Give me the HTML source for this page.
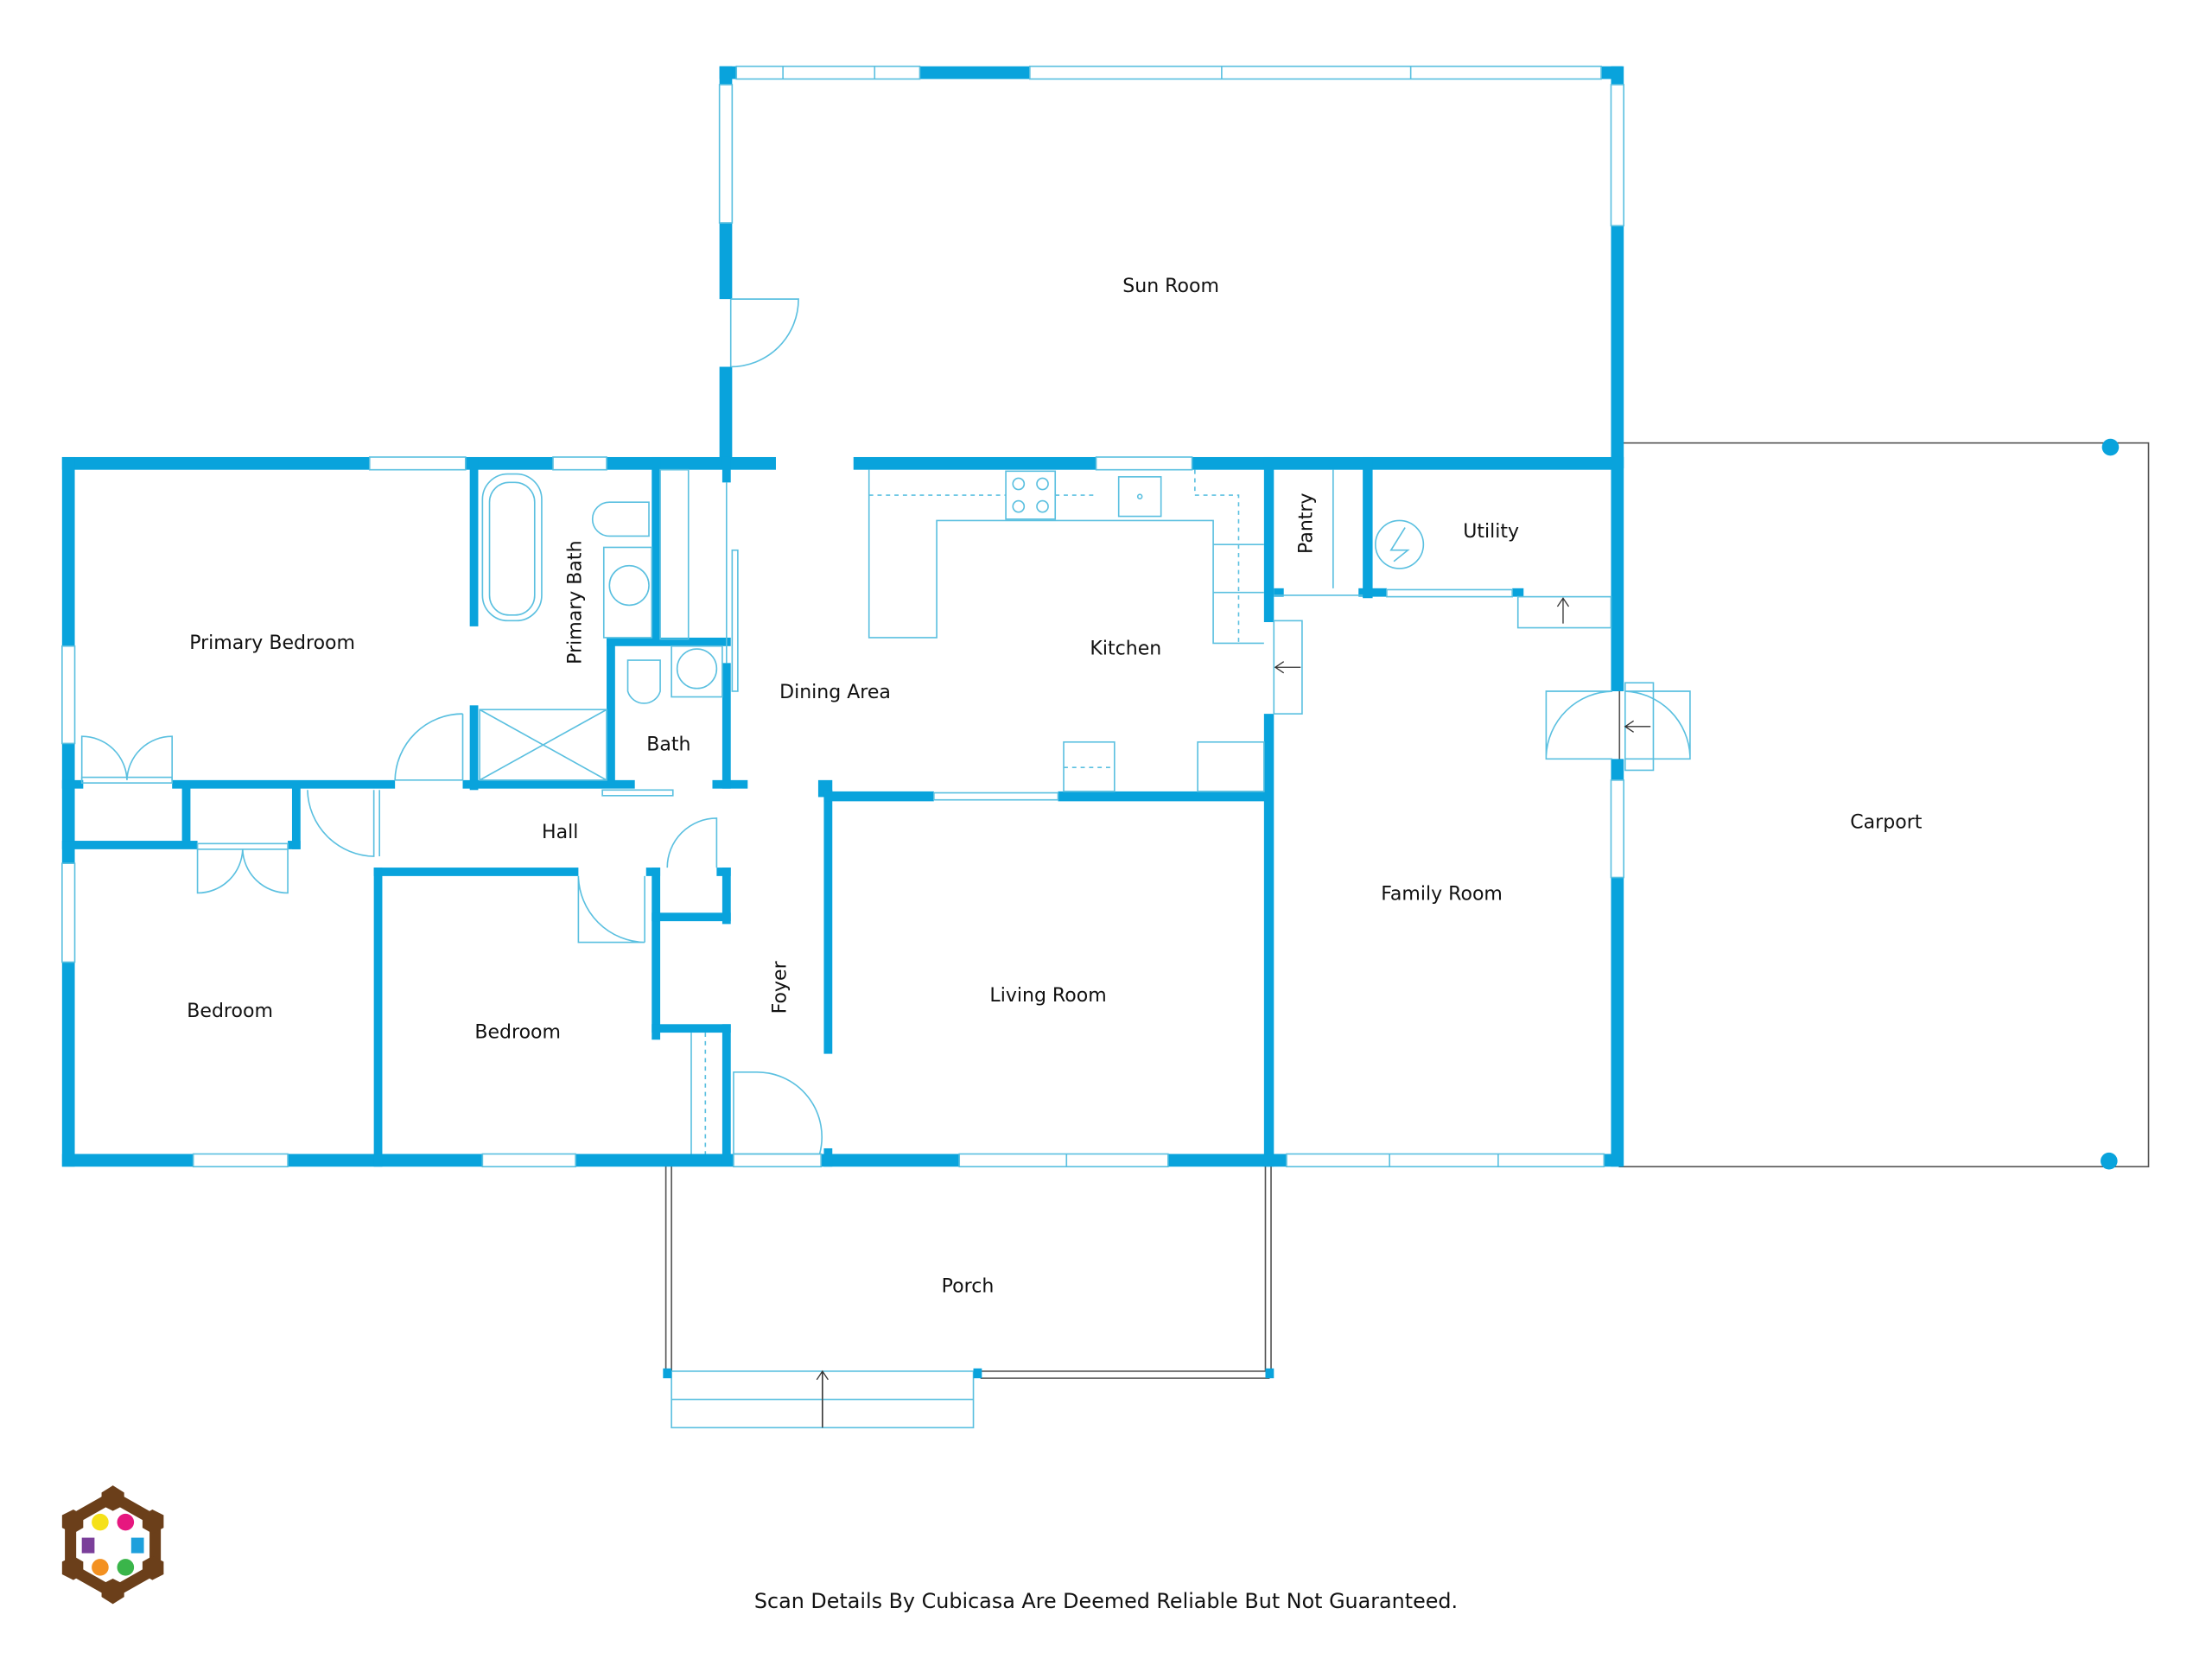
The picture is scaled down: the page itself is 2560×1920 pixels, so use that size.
<!DOCTYPE html>
<html><head><meta charset="utf-8"><style>
html,body{margin:0;padding:0;background:#fff;}
svg{display:block;}
text{font-family:"DejaVu Sans","Liberation Sans",sans-serif;font-size:13.5px;fill:#111;}
</style></head><body>
<svg width="2560" height="1920" viewBox="0 0 1568 1176" xmlns="http://www.w3.org/2000/svg">
<rect width="1568" height="1176" fill="#fff"/>
<!-- carport -->
<rect x="1148" y="314" width="375" height="513" fill="none" stroke="#555" stroke-width="1"/>
<circle cx="1496" cy="317" r="6" fill="#09a3dc"/>
<circle cx="1495" cy="823" r="6" fill="#09a3dc"/>
<!-- porch -->
<g fill="none" stroke="#555" stroke-width="1">
<line x1="472" y1="826" x2="472" y2="975"/><line x1="476" y1="826" x2="476" y2="972"/>
<line x1="897" y1="826" x2="897" y2="972"/><line x1="901" y1="826" x2="901" y2="975"/>
<line x1="690" y1="972" x2="900" y2="972"/><line x1="695" y1="977" x2="900" y2="977"/>
<line x1="583" y1="972" x2="583" y2="1012"/>
</g>
<g fill="none" stroke="#5bc0e0" stroke-width="1">
<rect x="476" y="972" width="214" height="40"/><line x1="476" y1="992" x2="690" y2="992"/>
</g>
<g fill="#09a3dc"><rect x="470" y="970" width="6" height="7"/><rect x="690" y="970" width="6" height="7"/><rect x="897" y="970" width="6" height="7"/></g>
<!-- walls -->
<g fill="#09a3dc">
<rect x="510" y="47" width="12" height="9"/><rect x="652" y="47" width="78" height="9"/><rect x="1135" y="47" width="15" height="9"/>
<rect x="510" y="47" width="9" height="13"/><rect x="510" y="158" width="9" height="54"/><rect x="510" y="260" width="9" height="72"/>
<rect x="1142" y="47" width="9" height="13"/><rect x="1142" y="160" width="9" height="172"/>
<rect x="44" y="324" width="218" height="9"/><rect x="330" y="324" width="62" height="9"/><rect x="430" y="324" width="120" height="9"/>
<rect x="605" y="324" width="172" height="9"/><rect x="845" y="324" width="305" height="9"/>
<rect x="44" y="324" width="9" height="134"/><rect x="44" y="527" width="9" height="85"/><rect x="44" y="682" width="9" height="145"/>
<rect x="44" y="818" width="93" height="9"/><rect x="204" y="818" width="138" height="9"/><rect x="408" y="818" width="112" height="9"/>
<rect x="582" y="818" width="98" height="9"/><rect x="828" y="818" width="84" height="9"/><rect x="1137" y="818" width="13" height="9"/>
<rect x="1142" y="324" width="9" height="166"/><rect x="1142" y="538" width="9" height="15"/><rect x="1142" y="622" width="9" height="205"/>
<rect x="333" y="324" width="6" height="120"/><rect x="333" y="500" width="6" height="60"/>
<rect x="44" y="553" width="15" height="6"/><rect x="122" y="553" width="158" height="6"/><rect x="328" y="553" width="122" height="6"/>
<rect x="505" y="553" width="25" height="6"/><rect x="580" y="553" width="10" height="12"/>
<rect x="44" y="596" width="96" height="6"/><rect x="204" y="596" width="9" height="6"/>
<rect x="129" y="556" width="6" height="44"/><rect x="207" y="556" width="6" height="46"/>
<rect x="265" y="615" width="6" height="212"/>
<rect x="265" y="615" width="145" height="6"/><rect x="458" y="615" width="10" height="6"/><rect x="508" y="615" width="10" height="6"/>
<rect x="462" y="615" width="6" height="122"/>
<rect x="462" y="647" width="56" height="6"/><rect x="462" y="726" width="56" height="6"/>
<rect x="512" y="615" width="6" height="40"/><rect x="512" y="726" width="6" height="100"/>
<rect x="430" y="452" width="6" height="104"/><rect x="430" y="452" width="88" height="6"/>
<rect x="462" y="324" width="6" height="132"/>
<rect x="512" y="324" width="6" height="18"/><rect x="512" y="470" width="6" height="89"/>
<rect x="584" y="560" width="6" height="187"/><rect x="584" y="814" width="6" height="13"/>
<rect x="584" y="561" width="78" height="7"/><rect x="750" y="561" width="152" height="7"/>
<rect x="896" y="324" width="7" height="117"/><rect x="896" y="506" width="7" height="321"/>
<rect x="966" y="324" width="7" height="100"/><rect x="903" y="417" width="7" height="6"/><rect x="963" y="417" width="20" height="6"/><rect x="1072" y="417" width="8" height="6"/>
</g>
<!-- windows -->
<g fill="#fff" stroke="#5bc0e0" stroke-width="1">
<rect x="522" y="47" width="130" height="9"/><rect x="730" y="47" width="405" height="9"/>
<rect x="510" y="60" width="9" height="98"/><rect x="1142" y="60" width="9" height="100"/>
<rect x="262" y="324" width="68" height="9"/><rect x="392" y="324" width="38" height="9"/><rect x="777" y="324" width="68" height="9"/>
<rect x="44" y="458" width="9" height="69"/><rect x="44" y="612" width="9" height="70"/>
<rect x="137" y="818" width="67" height="9"/><rect x="342" y="818" width="66" height="9"/><rect x="680" y="818" width="148" height="9"/><rect x="912" y="818" width="225" height="9"/>
<rect x="1142" y="553" width="9" height="69"/>
<rect x="520" y="818" width="62" height="9"/>
<rect x="662" y="562" width="88" height="5"/>
<rect x="983" y="418" width="89" height="5"/>
</g>
<g fill="none" stroke="#5bc0e0" stroke-width="1">
<line x1="555" y1="47" x2="555" y2="56"/><line x1="620" y1="47" x2="620" y2="56"/><line x1="866" y1="47" x2="866" y2="56"/><line x1="1000" y1="47" x2="1000" y2="56"/>
<line x1="756" y1="818" x2="756" y2="827"/><line x1="985" y1="818" x2="985" y2="827"/><line x1="1062" y1="818" x2="1062" y2="827"/>
<path d="M518 212 H566 A48 48 0 0 1 518 260"/><line x1="518" y1="212" x2="518" y2="260"/>
<path d="M328 506 V553 H280 A48 48 0 0 1 328 506"/>
<path d="M58 553 V522 A32 32 0 0 1 90 553 M122 553 V522 A32 32 0 0 0 90 553"/>
<rect x="58" y="551" width="64" height="4"/>
<path d="M140 602 V633 A32 32 0 0 0 172 602 M204 602 V633 A32 32 0 0 1 172 602"/>
<rect x="140" y="598" width="64" height="4"/>
<path d="M265 560 V607 A48 48 0 0 1 218 560"/><line x1="269" y1="560" x2="269" y2="607"/>
<path d="M508 615 V580 A35 35 0 0 0 473 615"/>
<path d="M410 621 V668 H457 A48 48 0 0 1 410 621"/><line x1="457" y1="621" x2="457" y2="668"/>
<path d="M520 760 H535 A46 46 0 0 1 581 818 H520 Z"/>
<path d="M1143 490 H1096 V538 H1143 M1143 490 A48 48 0 0 0 1096 536"/>
<path d="M1152 490 H1198 V538 H1152 M1152 490 A48 48 0 0 1 1198 536"/>
<rect x="1152" y="484" width="20" height="62"/>
<rect x="903" y="440" width="20" height="66"/>
<rect x="1076" y="423" width="66" height="22"/>
<rect x="427" y="560" width="50" height="4"/>
<rect x="519" y="390" width="4" height="100"/>
<line x1="515" y1="342" x2="515" y2="470"/>
<rect x="342" y="336" width="42" height="104" rx="18"/><rect x="347" y="342" width="32" height="94" rx="14"/>
<path d="M420 368 A12 12 0 0 1 432 356 H460 V380 H432 A12 12 0 0 1 420 368 Z"/>
<rect x="428" y="388" width="34" height="64"/><circle cx="446" cy="415" r="14"/>
<rect x="468" y="333" width="20" height="120"/>
<rect x="340" y="503" width="90" height="50"/><path d="M340 503 L430 553 M430 503 L340 553"/>
<path d="M445 468 H468 V490 A12 12 0 0 1 445 490 Z"/>
<rect x="476" y="458" width="36" height="36"/><circle cx="494" cy="474" r="14"/>
<path d="M616 333 V452 H664 V369 H860 V456 H896"/>
<path d="M616 351 H713 M748 351 H777 M847 351 H878 V456 M847 333 V351" stroke-dasharray="3 3"/>
<rect x="713" y="334" width="35" height="34"/>
<circle cx="722" cy="343" r="4"/><circle cx="739" cy="343" r="4"/><circle cx="722" cy="359" r="4"/><circle cx="739" cy="359" r="4"/>
<rect x="793" y="338" width="30" height="28"/><circle cx="808" cy="352" r="1.5"/>
<path d="M860 386 H896 M860 420 H896"/>
<rect x="754" y="526" width="36" height="35"/><path d="M754 544 H790" stroke-dasharray="3 3"/>
<rect x="849" y="526" width="47" height="35"/>
<line x1="903" y1="422" x2="966" y2="422"/>
<line x1="945" y1="333" x2="945" y2="417"/>
<circle cx="992" cy="386" r="17"/><path d="M996 374 L986 390 H998 L988 398"/>
<path d="M500 732 V818" stroke-dasharray="3 3"/>
<line x1="490" y1="732" x2="490" y2="818"/>
</g>
<g stroke="#333" stroke-width="0.8" fill="none">
<path d="M583 1012 V972 M579 978 L583 972 L587 978"/>
<path d="M922 473 H904 M910 469 L904 473 L910 477"/>
<path d="M1170 515 H1152 M1158 511 L1152 515 L1158 519"/>
<path d="M1108 442 V424 M1104 430 L1108 424 L1112 430"/>
</g>
<text x="830" y="207" text-anchor="middle">Sun Room</text>
<text x="193" y="460" text-anchor="middle">Primary Bedroom</text>
<text x="412" y="427" text-anchor="middle" transform="rotate(-90 412 427)">Primary Bath</text>
<text x="474" y="532" text-anchor="middle">Bath</text>
<text x="592" y="495" text-anchor="middle">Dining Area</text>
<text x="798" y="464" text-anchor="middle">Kitchen</text>
<text x="930" y="371" text-anchor="middle" transform="rotate(-90 930 371)">Pantry</text>
<text x="1057" y="381" text-anchor="middle">Utility</text>
<text x="397" y="594" text-anchor="middle">Hall</text>
<text x="163" y="721" text-anchor="middle">Bedroom</text>
<text x="367" y="736" text-anchor="middle">Bedroom</text>
<text x="557" y="700" text-anchor="middle" transform="rotate(-90 557 700)">Foyer</text>
<text x="743" y="710" text-anchor="middle">Living Room</text>
<text x="1022" y="638" text-anchor="middle">Family Room</text>
<text x="1337" y="587" text-anchor="middle">Carport</text>
<text x="686" y="916" text-anchor="middle">Porch</text>
<text x="784" y="1140" text-anchor="middle" style="font-size:14.6px">Scan Details By Cubicasa Are Deemed Reliable But Not Guaranteed.</text>
<g transform="translate(80,1095)">
<polygon points="0,-34 30,-17 30,17 0,34 -30,17 -30,-17" fill="none" stroke="#6b3f1a" stroke-width="8"/>
<g fill="#6b3f1a">
<polygon points="0,-42 8,-37 8,-28 0,-24 -8,-28 -8,-37"/>
<polygon points="0,42 8,37 8,28 0,24 -8,28 -8,37"/>
<polygon points="-36,-21 -28,-25 -21,-21 -21,-12 -28,-8 -36,-12"/>
<polygon points="36,-21 28,-25 21,-21 21,-12 28,-8 36,-12"/>
<polygon points="-36,21 -28,25 -21,21 -21,12 -28,8 -36,12"/>
<polygon points="36,21 28,25 21,21 21,12 28,8 36,12"/>
</g>
<circle cx="-9" cy="-16" r="6" fill="#f5e11a"/>
<circle cx="9" cy="-16" r="6" fill="#e6177f"/>
<rect x="-22" y="-5" width="9" height="11" fill="#7b3f9a"/>
<rect x="13" y="-5" width="9" height="11" fill="#1ea0dc"/>
<circle cx="-9" cy="16" r="6" fill="#f39121"/>
<circle cx="9" cy="16" r="6" fill="#3ab54a"/>
</g>
</svg>
</body></html>
